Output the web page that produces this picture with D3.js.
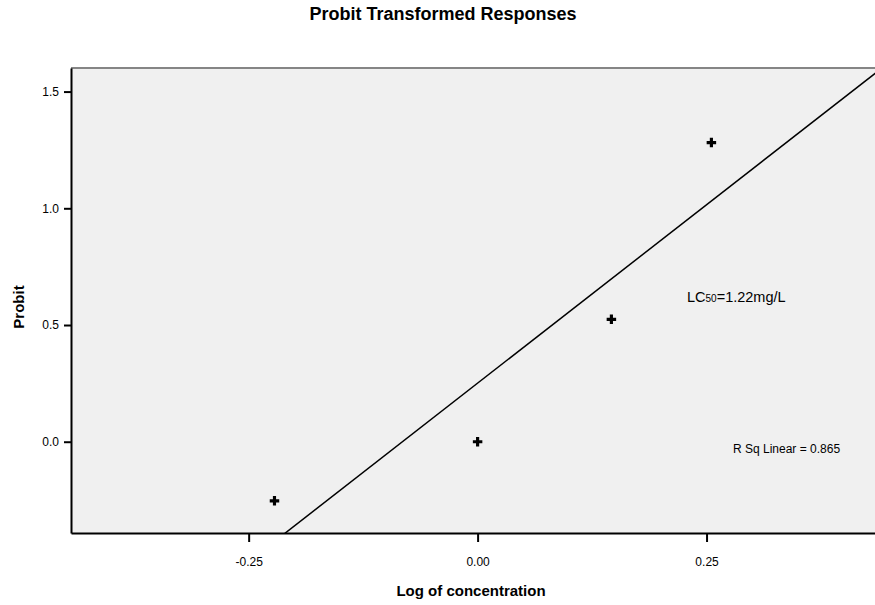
<!DOCTYPE html>
<html>
<head>
<meta charset="utf-8">
<script src="https://cdn.jsdelivr.net/npm/d3@7"></script>
<style>
  body { margin: 0; background: #fff; overflow: hidden; }
  svg { display: block; }
  text { font-family: "Liberation Sans", Arial, sans-serif; }
</style>
</head>
<body>
<svg id="chart"></svg>
<script>
let width = 875;
let height = 605;
let margin = {top: 68, right: -6, bottom: 72, left: 71};

// data
let logConc = [-0.2218, 0.0, 0.1461, 0.2553];
let probit = [-0.2533, 0.0, 0.5244, 1.2816];
let xTicks = [-0.25, 0.00, 0.25];
let yTicks = [0.0, 0.5, 1.0, 1.5];
let xDomain = [-0.444, 0.4405];
let yDomain = [-0.391, 1.601];
let rSqLabel = "R Sq Linear = 0.865";

let INNER_WIDTH = width - margin.left - margin.right;
let INNER_HEIGHT = height - margin.top - margin.bottom;

let svg = d3.select("#chart")
    .attr("width", width)
    .attr("height", height);

let g = svg.append("g")
    .attr("transform", `translate(${margin.left},${margin.top})`);

let x = d3.scaleLinear().domain(xDomain).range([0, INNER_WIDTH]);
let y = d3.scaleLinear().domain(yDomain).range([INNER_HEIGHT, 0]);

// plot background
g.append("rect")
    .attr("width", INNER_WIDTH)
    .attr("height", INNER_HEIGHT)
    .style("fill", "#f0f0f0");

g.append("line")
    .attr("x1", 0).attr("x2", INNER_WIDTH)
    .attr("y1", 0).attr("y2", 0)
    .style("stroke", "#858585")
    .style("stroke-width", 2);

g.append("clipPath").attr("id", "clip")
    .append("rect")
    .attr("width", INNER_WIDTH)
    .attr("height", INNER_HEIGHT);

// least squares fit line
let pts = logConc.map((v, i) => ({x: v, y: probit[i]}));
let mx = d3.mean(pts, d => d.x);
let my = d3.mean(pts, d => d.y);
let slope = d3.sum(pts, d => (d.x - mx) * (d.y - my)) / d3.sum(pts, d => (d.x - mx) * (d.x - mx));
let intercept = my - slope * mx;

g.append("line")
    .attr("clip-path", "url(#clip)")
    .attr("x1", x(xDomain[0])).attr("y1", y(intercept + slope * xDomain[0]))
    .attr("x2", x(xDomain[1])).attr("y2", y(intercept + slope * xDomain[1]))
    .style("stroke", "#000")
    .style("stroke-width", 1.5);

// points
g.selectAll(".pt")
    .data(pts)
    .enter().append("path")
    .attr("class", "pt")
    .attr("transform", d => `translate(${x(d.x)},${y(d.y)})`)
    .attr("d", d3.symbol(d3.symbolCross).size(50))
    .style("fill", "#000");

// axes
let fmtX = d => d3.format(".2f")(d).replace("\u2212", "-");
let fmtY = d => d3.format(".1f")(d).replace("\u2212", "-");

let x_axis = g.append("g")
    .attr("transform", `translate(0,${INNER_HEIGHT})`)
    .call(d3.axisBottom(x).tickValues(xTicks).tickFormat(fmtX).tickSize(9).tickPadding(15).tickSizeOuter(0));
let y_axis = g.append("g")
    .call(d3.axisLeft(y).tickValues(yTicks).tickFormat(fmtY).tickSize(7).tickPadding(5).tickSizeOuter(0));

[x_axis, y_axis].forEach(a => {
    a.attr("font-size", 12).attr("font-family", "'Liberation Sans', Arial, sans-serif");
    a.select(".domain").style("stroke", "#000").style("stroke-width", 2);
    a.selectAll(".tick line").style("stroke", "#000").style("stroke-width", 2);
    a.selectAll(".tick text").style("fill", "#000");
});
x_axis.selectAll(".tick text").attr("dy", "0.71em");

// annotations
let lc = g.append("text")
    .attr("x", 687 - margin.left)
    .attr("y", 302 - margin.top)
    .style("font-size", "14.5px")
    .style("fill", "#000");
lc.append("tspan").text("LC");
lc.append("tspan").style("font-size", "10px").text("50");
lc.append("tspan").text("=1.22mg/L");

g.append("text")
    .attr("x", 733 - margin.left)
    .attr("y", 453 - margin.top)
    .style("font-size", "12px")
    .style("fill", "#000")
    .text(rSqLabel);

// titles
svg.append("text")
    .attr("x", 443).attr("y", 20)
    .style("text-anchor", "middle")
    .style("font-weight", "bold")
    .style("font-size", "18px")
    .text("Probit Transformed Responses");

svg.append("text")
    .attr("x", 471).attr("y", 596)
    .style("text-anchor", "middle")
    .style("font-weight", "bold")
    .style("font-size", "15px")
    .text("Log of concentration");

svg.append("text")
    .attr("transform", `translate(24,${307}) rotate(-90)`)
    .style("text-anchor", "middle")
    .style("font-weight", "bold")
    .style("font-size", "15px")
    .text("Probit");
</script>
</body>
</html>
